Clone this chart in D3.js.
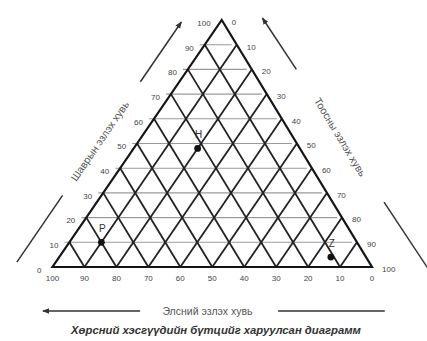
<!DOCTYPE html>
<html><head><meta charset="utf-8">
<script src="https://cdn.jsdelivr.net/npm/d3@7"></script>
<style>body{margin:0;background:#fff}svg{display:block}</style>
</head><body><svg id="c" width="427" height="341"></svg>
<script>
// ---- data ----
const ticks = [0,10,20,30,40,50,60,70,80,90,100];
const gridSteps = [10,20,30,40,50,60,70,80,90];
const pointNames = ["H","P","Z"];
const pointSand = [32,80,11];
const pointSilt = [20,10,85];
const pointClay = [48,10,4];
const titleClay = "Шаврын эзлэх хувь";
const titleSilt = "Тоосны эзлэх хувь";
const titleSand = "Элсний эзлэх хувь";
const caption = "Хөрсний хэсгүүдийн бүтцийг харуулсан диаграмм";

// ---- scales / projection ----
const svg = d3.select("#c");
const x = d3.scaleLinear().domain([0,100]).range([52.5,372]);
const y = d3.scaleLinear().domain([0,100]).range([267,20]);
const apexShare = 0.5296;
function P(silt, clay){ return [x(silt + clay*apexShare), y(clay)]; }
const line = d3.line();
const font = "'Liberation Sans', Arial, sans-serif";

const defs = svg.append("defs");
defs.append("marker").attr("id","ah").attr("viewBox","0 0 10 10")
  .attr("refX",9).attr("refY",5).attr("markerWidth",7).attr("markerHeight",7)
  .attr("markerUnits","userSpaceOnUse").attr("orient","auto")
  .append("path").attr("d","M0,1 L10,5 L0,9 Z").attr("fill","#333");

// horizontal (constant clay) lines - light
svg.append("g").selectAll("path").data(gridSteps).join("path")
  .attr("d", c => { const a = P(0,c), b = P(100-c,c); return line([[a[0]-5,a[1]],[b[0]-5,b[1]]]); })
  .attr("stroke","#9a9a9a").attr("stroke-width",1.1).attr("fill","none");

// constant silt lines (parallel to left edge)
svg.append("g").selectAll("path").data(gridSteps).join("path")
  .attr("d", s => line([P(s,0), P(s,100-s)]))
  .attr("stroke","#222").attr("stroke-width",1.8).attr("fill","none");

// constant sand lines (parallel to right edge)
svg.append("g").selectAll("path").data(gridSteps).join("path")
  .attr("d", a => line([P(100-a,0), P(0,100-a)]))
  .attr("stroke","#222").attr("stroke-width",1.8).attr("fill","none");

// triangle outline
svg.append("path").attr("d", line([P(0,0),P(100,0),P(0,100)]) + "Z")
  .attr("stroke","#151515").attr("stroke-width",2.2).attr("fill","none")
  .attr("stroke-linejoin","miter");

// tick labels
const tl = svg.append("g").attr("font-family",font).attr("font-size",8).attr("fill","#444");
tl.selectAll(".l").data(ticks).join("text").attr("class","l")
  .attr("x", c => P(0,c)[0]-11).attr("y", c => P(0,c)[1]+3).attr("dy","0.35em")
  .attr("text-anchor","end").text(d => d);
tl.selectAll(".r").data(ticks).join("text").attr("class","r")
  .attr("x", s => P(s,100-s)[0]+10).attr("y", s => P(s,100-s)[1]+2).attr("dy","0.35em")
  .attr("text-anchor","start").text(d => d);
tl.selectAll(".b").data(ticks).join("text").attr("class","b")
  .attr("x", a => P(100-a,0)[0]).attr("y", a => P(100-a,0)[1]+11).attr("dy","0.35em")
  .attr("text-anchor","middle").text(d => d);

// points
const pts = pointNames.map((n,i) => ({n, p: P(pointSilt[i], pointClay[i])}));
svg.append("g").selectAll("circle").data(pts).join("circle")
  .attr("cx", d => d.p[0]).attr("cy", d => d.p[1]).attr("r",3.4).attr("fill","#111");
svg.append("g").selectAll("text").data(pts).join("text")
  .attr("x", d => d.p[0]+1).attr("y", d => d.p[1]-14).attr("dy","0.35em")
  .attr("text-anchor","middle").attr("font-family",font).attr("font-size",10)
  .attr("fill","#333").text(d => d.n);

// axis arrows and titles
const arrowStyle = s => s.attr("stroke","#333").attr("stroke-width",1.5).attr("fill","none");
// left (clay)
const L = c => { const p = P(0,c); return [p[0]-39, p[1]]; };
svg.append("path").attr("d", line([L(2), L(29)])).call(arrowStyle);
svg.append("path").attr("d", line([L(75), L(99.2)])).call(arrowStyle).attr("marker-end","url(#ah)");
const lc = L(51);
svg.append("text").attr("transform",`translate(${lc[0]},${lc[1]}) rotate(-55.5)`)
  .attr("text-anchor","middle").attr("dy","0.35em").attr("font-family",font)
  .attr("font-size",10.5).attr("fill","#555").text(titleClay);
// right (silt)
const R = c => { const p = P(100-c,c); return [p[0] + 55 - 0.13*c, p[1]]; };
svg.append("path").attr("d", line([R(80), R(100.8)])).call(arrowStyle).attr("marker-end","url(#ah)");
svg.append("path").attr("d", line([R(26.3), R(-4)])).call(arrowStyle);
const rc = R(52.6);
svg.append("text").attr("transform",`translate(${rc[0]-1},${rc[1]}) rotate(58.8)`)
  .attr("text-anchor","middle").attr("dy","0.35em").attr("font-family",font)
  .attr("font-size",10.5).attr("fill","#555").text(titleSilt);
// bottom (sand)
const by = y(0) + 44;
svg.append("path").attr("d", line([[x(27.4),by],[x(-3),by]])).call(arrowStyle).attr("marker-end","url(#ah)");
svg.append("path").attr("d", line([[x(70.6),by],[x(104),by]])).call(arrowStyle);
svg.append("text").attr("x", x(48.5)).attr("y", by).attr("dy","0.35em")
  .attr("text-anchor","middle").attr("font-family",font).attr("font-size",10.5)
  .attr("fill","#555").text(titleSand);

// caption
svg.append("text").attr("x",216).attr("y",330).attr("dy","0.35em")
  .attr("text-anchor","middle").attr("font-family",font).attr("font-size",11.3)
  .attr("font-weight","bold").attr("font-style","italic").attr("fill","#333")
  .text(caption);
</script>
</body></html>
